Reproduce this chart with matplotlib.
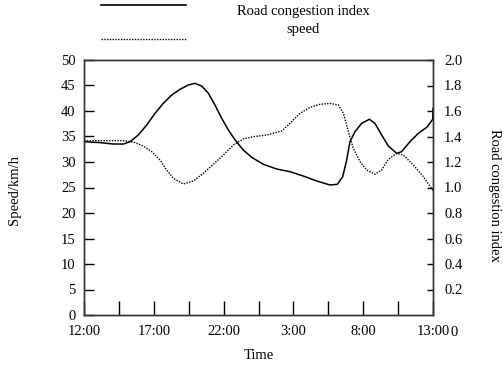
import matplotlib
matplotlib.use("Agg")
import matplotlib.pyplot as plt
from matplotlib.lines import Line2D

# hours after 12:00 (0 = 12:00, 25 = 13:00 next day)
idx_hours = [0, 0.05, 1.15, 2.10, 2.82, 3.30, 3.89, 4.49, 5.09, 5.68, 6.28, 6.88, 7.47,
             7.95, 8.43, 8.91, 9.38, 9.86, 10.34, 10.82, 11.41, 12.01, 12.85, 13.80,
             14.76, 15.71, 16.67, 17.62, 18.15, 18.53, 18.82, 19.05, 19.41, 19.89,
             20.44, 20.84, 21.32, 21.80, 22.40, 22.75, 23.35, 23.95, 24.55, 24.98, 25.0]
congestion = [1.412, 1.359, 1.352, 1.341, 1.341, 1.359, 1.412, 1.490, 1.582, 1.660, 1.725,
              1.770, 1.804, 1.817, 1.796, 1.739, 1.647, 1.543, 1.451, 1.373, 1.294, 1.237,
              1.182, 1.145, 1.124, 1.090, 1.051, 1.020, 1.025, 1.085, 1.216, 1.359, 1.438,
              1.503, 1.535, 1.503, 1.412, 1.325, 1.268, 1.281, 1.359, 1.425, 1.472, 1.535,
              1.621]

spd_hours = [0, 2.82, 3.53, 4.25, 4.85, 5.44, 5.92, 6.40, 7.11, 7.83, 8.55, 9.26, 9.98,
             10.70, 11.41, 12.13, 13.08, 14.16, 14.76, 15.47, 16.19, 16.91, 17.62, 18.22,
             18.58, 18.94, 19.29, 19.77, 20.25, 20.84, 21.32, 21.80, 22.40, 22.87, 23.59,
             24.31, 25.0]
speed = [34.18, 34.18, 33.92, 33.14, 32.03, 30.39, 28.43, 26.80, 25.69, 26.27, 27.78,
         29.54, 31.37, 33.33, 34.51, 34.97, 35.29, 36.08, 37.58, 39.54, 40.72, 41.31,
         41.50, 41.18, 39.54, 35.95, 32.68, 30.07, 28.43, 27.58, 28.43, 30.52, 31.70,
         31.37, 29.41, 27.12, 24.38]

xticks = [0, 2.5, 5, 7.5, 10, 12.5, 15, 17.5, 20, 22.5, 25]
xlabels = ["12:00", "", "17:00", "", "22:00", "", "3:00", "", "8:00", "", "13:00"]
left_ticks = [0, 5, 10, 15, 20, 25, 30, 35, 40, 45, 50]
right_ticks = [0.2, 0.4, 0.6, 0.8, 1.0, 1.2, 1.4, 1.6, 1.8, 2.0]

plt.rcParams["font.family"] = ["Liberation Serif", "DejaVu Serif"]
plt.rcParams["font.size"] = 10.5

fig = plt.figure(figsize=(5.03, 3.68), dpi=100)
ax = fig.add_axes([84 / 503, 53 / 368, 349 / 503, 255 / 368])
ax2 = ax.twinx()

ax.plot(spd_hours, speed, color="black", lw=1.0, ls=(0, (1, 1)))
ax2.plot(idx_hours, congestion, color="black", lw=1.1, solid_joinstyle="round")

ax.set_xlim(0, 25)
ax.set_ylim(0, 50)
ax2.set_ylim(0, 2.0)
ax.set_xticks(xticks)
ax.set_xticklabels(xlabels)
ax.set_yticks(left_ticks)
ax2.set_yticks(right_ticks)
ax2.set_yticklabels(["%.1f" % v for v in right_ticks])

ax.tick_params(axis="x", direction="in", length=10, width=1, pad=7, top=False)
ax.tick_params(axis="y", direction="in", length=7, width=1, pad=6)
ax2.tick_params(axis="y", direction="in", length=4, width=1, pad=8)
for a in (ax, ax2):
    for s in a.spines.values():
        s.set_color("#333333")
        s.set_linewidth(1)

ax2.text(1.06, -0.07, "0", transform=ax2.transAxes, ha="center", va="center")

ax.set_xlabel("Time", labelpad=8)
fig.text(15 / 503, 1 - 190 / 368, "Speed/km/h", rotation=90, ha="center", va="center")
fig.text(495 / 503, 1 - 195 / 368, "Road congestion index", rotation=270,
         ha="center", va="center")

# legend drawn above the axes
fig.add_artist(Line2D([101 / 503, 186 / 503], [1 - 5 / 368, 1 - 5 / 368],
                      transform=fig.transFigure, color="black", lw=1.2))
fig.add_artist(Line2D([101 / 503, 186 / 503], [1 - 39 / 368, 1 - 39 / 368],
                      transform=fig.transFigure, color="black", lw=1.0, ls=(0, (1, 1))))
fig.text(303 / 503, 1 - 12 / 368, "Road congestion index", ha="center", va="center")
fig.text(303 / 503, 1 - 29 / 368, "speed", ha="center", va="center")

fig.savefig("out.png", dpi=100)
